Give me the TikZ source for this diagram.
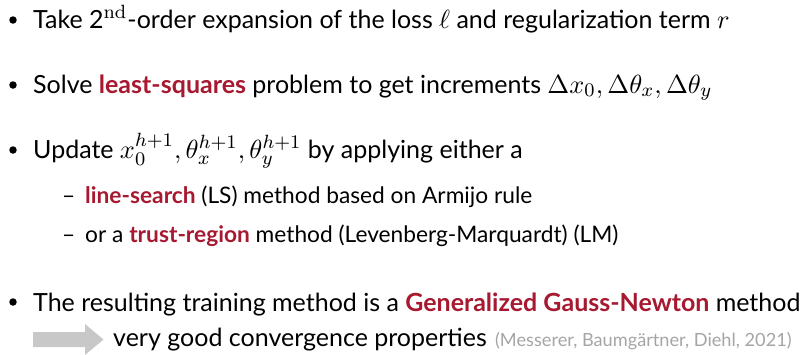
\documentclass[tikz,border=0pt]{standalone}
\usepackage[no-math]{fontspec}
\usepackage{graphicx}
\setmainfont[Scale=0.947]{Lato}
\DeclareMathSizes{11}{11}{8}{6}
\definecolor{accent}{RGB}{166,25,48}
\definecolor{citegray}{RGB}{165,165,165}
\definecolor{arrowgray}{RGB}{200,200,200}
\newcommand{\hl}[1]{\textcolor{accent}{\textbf{#1}}}
% slide text is set at its natural size and enlarged as a whole
\newcommand{\enl}[1]{\scalebox{2.4}{#1}}
\begin{document}
\begin{tikzpicture}[x=1pt,y=-1pt,
  main/.style={anchor=base west,inner sep=0pt,font=\fontsize{11}{13}\selectfont},
  sub/.style={anchor=base west,inner sep=0pt,font=\fontsize{10}{12}\selectfont},
  cite/.style={anchor=base west,inner sep=0pt,font=\fontsize{8}{10}\selectfont,text=citegray},
  bul/.style={circle,fill=black,inner sep=0pt,minimum size=7.5pt}]
\useasboundingbox (0,0) rectangle (805,354);
% first-level items
\node[bul] (b1) at (13,20) {};
\node[main] (t1) at (33,28) {\enl{Take 2$^{\mathrm{nd}}$-order expansion of the loss $\ell$ and regularization term $r$}};
\node[bul] (b2) at (13,85) {};
\node[main] (t2) at (33,93) {\enl{Solve \hl{least-squares} problem to get increments $\Delta x_0,\Delta\theta_x,\Delta\theta_y$}};
\node[bul] (b3) at (13,150) {};
\node[main] (t3) at (33,158) {\enl{Update $x_0^{h+1},\theta_x^{h+1},\theta_y^{h+1}$ by applying either a}};
% second-level items
\node[sub] (d1) at (62,203) {\enl{--}};
\node[sub] (s1) at (85,203) {\enl{\hl{line-search} (LS) method based on Armijo rule}};
\node[sub] (d2) at (62,242) {\enl{--}};
\node[sub] (s2) at (85,242) {\enl{or a \hl{trust-region} method (Levenberg-Marquardt) (LM)}};
% conclusion
\node[bul] (b4) at (13,302) {};
\node[main] (t4) at (33,311) {\enl{The resulting training method is a \hl{Generalized Gauss-Newton} method}};
% block arrow leading to the consequence
\fill[arrowgray] (33,332) -- (85,332) -- (85,324) -- (103.5,339.5) -- (85,355) -- (85,347) -- (33,347) -- cycle;
\node[main] (t5) at (113,346) {\enl{very good convergence properties}};
\node[cite] (ref) at (t5.base east) {\enl{\hspace{3.3pt}(Messerer, Baumgärtner, Diehl, 2021)}};
\end{tikzpicture}
\end{document}
